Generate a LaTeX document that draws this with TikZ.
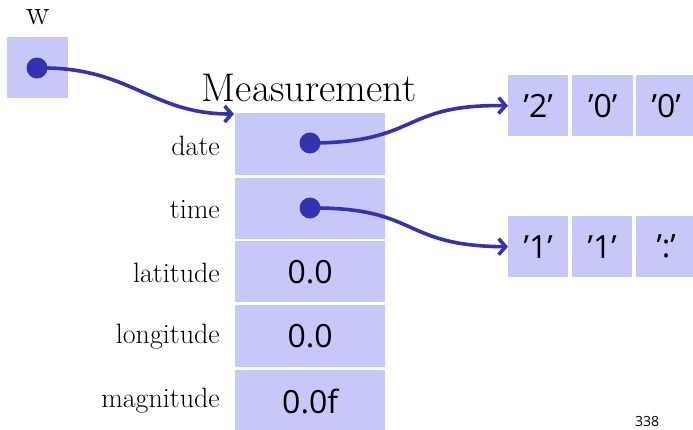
\documentclass[tikz,border=0pt]{standalone}
\usepackage{fontspec}
\newfontfamily\cellfont{Open Sans}
\usetikzlibrary{arrows.meta}
\definecolor{cellfill}{RGB}{200,200,248}
\definecolor{ptr}{RGB}{51,51,178}
\begin{document}
\begin{tikzpicture}[x=1pt,y=-1pt,
  cell/.style={fill=cellfill,draw=none,inner sep=0pt,anchor=north west,font=\cellfont\fontsize{32}{32}\selectfont},
  lbl/.style={anchor=east,inner sep=0pt,font=\fontsize{28}{28}\selectfont},
  dotnode/.style={circle,fill=ptr,inner sep=0pt,minimum size=21pt},
  link/.style={draw=ptr,line width=3.6pt,-{Straight Barb[length=7pt,width=16pt,line width=3.6pt]},line cap=round}]
\useasboundingbox (0,0) rectangle (693,429);
% w box
\node[cell,minimum width=61,minimum height=61] (wbox) at (7,37) {};
\node[inner sep=0pt,font=\fontsize{35}{35}\selectfont] (wl) at (38,17) {w};
\node[dotnode] (wd) at (37,68) {};
% Measurement
\node[inner sep=0pt,font=\fontsize{40}{40}\selectfont] (mt) at (309,88) {Measurement};
\node[cell,minimum width=150,minimum height=62] (c1) at (235,113) {};
\node[cell,minimum width=150,minimum height=61] (c2) at (235,178) {};
\node[cell,minimum width=150,minimum height=61] (c3) at (235,241) {0.0};
\node[cell,minimum width=150,minimum height=62] (c4) at (235,305) {0.0};
\node[cell,minimum width=150,minimum height=62] (c5) at (235,370) {0.0f};
\node[lbl] (l1) at (220,146) {date};
\node[lbl] (l2) at (220,210) {time};
\node[lbl] (l3) at (220,273) {latitude};
\node[lbl] (l4) at (220,337) {longitude};
\node[lbl] (l5) at (220,401) {magnitude};
\node[dotnode] (dd) at (310,143) {};
\node[dotnode] (td) at (310,208) {};
% arrays
\node[cell,minimum width=60,minimum height=61] (a1) at (508,75) {’2’};
\node[cell,minimum width=61,minimum height=61] (a2) at (572,75) {’0’};
\node[cell,minimum width=60,minimum height=61] (a3) at (636,75) {’0’};
\node[cell,minimum width=60,minimum height=61] (b1) at (508,216) {’1’};
\node[cell,minimum width=60,minimum height=61] (b2) at (572,216) {’1’};
\node[cell,minimum width=60,minimum height=61] (b3) at (636,216) {’:’};
\coordinate (mtip) at (234,114);
% links
\draw[link] (wd.center) .. controls (130,66) and (150,114) .. (mtip);
\draw[link] (dd.center) .. controls (420,143) and (400,104) .. (a1.west);
\draw[link] (td.center) .. controls (420,207) and (400,246) .. (b1.west);
\node[inner sep=0pt,font=\cellfont\fontsize{14}{14}\selectfont] (pg) at (647,421) {338};
\end{tikzpicture}
\end{document}
